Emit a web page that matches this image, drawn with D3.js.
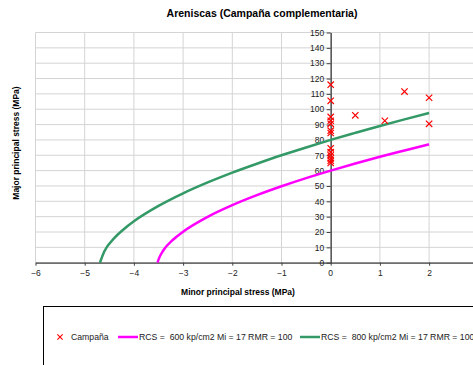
<!DOCTYPE html>
<html>
<head>
<meta charset="utf-8">
<script src="https://cdn.jsdelivr.net/npm/d3@7"></script>
<style>
  body { margin: 0; background: #fff; }
  svg { font-family: "Liberation Sans", Arial, sans-serif; }
</style>
</head>
<body>
<svg id="chart" width="473" height="365"></svg>
<script>
// Points de campagne (sigma3, sigma1)
const campX = [0, 0, 0, 0, 0, 0, 0, 0, 0, 0, 0, 0, 0, 0.5, 1.1, 1.5, 2, 2];
const campY = [116, 105.5, 95, 92.5, 90.5, 86, 84.5, 74.5, 72, 70, 68, 66.5, 65, 96, 92.5, 111.5, 107.5, 90.5];

// Courbe RCS = 600 kp/cm2
const rcs600X = [-3.52, -3.5, -3.4, -3.2, -3, -2.5, -2, -1.5, -1, -0.5, 0, 0.5, 1, 1.5, 2];
const rcs600Y = [0, 2, 8.1, 15.1, 20.2, 29.9, 37.5, 44, 49.8, 55.1, 60, 64.6, 69, 73.1, 77.1];

// Courbe RCS = 800 kp/cm2
const rcs800X = [-4.69, -4.6, -4.4, -4.2, -4, -3.5, -3, -2.5, -2, -1.5, -1, -0.5, 0, 0.5, 1, 1.5, 2];
const rcs800Y = [0, 7.4, 16, 22, 27, 37, 45.2, 52.3, 58.7, 64.5, 70, 75.1, 80, 84.6, 89.1, 93.4, 97.5];

const xTicks = [-6, -5, -4, -3, -2, -1, 0, 1, 2];
const xGrid = [-6, -5, -4, -3, -2, -1, 0, 1, 2, 3];
const yTicks = d3.range(0, 151, 10);

const legendLabels = ["Campaña", "RCS =  600 kp/cm2 Mi = 17 RMR = 100", "RCS =  800 kp/cm2 Mi = 17 RMR = 100"];

const svg = d3.select("#chart");

const x = d3.scaleLinear().domain([-6, 3]).range([35.5, 478.3]);
const y = d3.scaleLinear().domain([0, 150]).range([262.7, 32.5]);

// titre
svg.append("text")
  .attr("x", 262).attr("y", 17)
  .attr("text-anchor", "middle")
  .style("font-size", "10.5px").style("font-weight", "bold")
  .text("Areniscas (Campaña complementaria)");

// grille
svg.append("g")
  .selectAll("line")
  .data(xGrid)
  .join("line")
  .attr("x1", d => x(d)).attr("x2", d => x(d))
  .attr("y1", y(150)).attr("y2", y(0))
  .attr("stroke", "#d4d4d4").attr("stroke-width", 1);

svg.append("g")
  .selectAll("line")
  .data(yTicks)
  .join("line")
  .attr("x1", x(-6)).attr("x2", x(3))
  .attr("y1", d => y(d)).attr("y2", d => y(d))
  .attr("stroke", "#d4d4d4").attr("stroke-width", 1);

// axes
const xAxis = svg.append("g")
  .attr("transform", `translate(0,${y(0)})`)
  .call(d3.axisBottom(x).tickValues(xTicks).tickSize(3).tickSizeOuter(0).tickFormat(d3.format("d")));
xAxis.select(".domain").attr("stroke", "#404040").attr("stroke-width", 1.3);
xAxis.selectAll(".tick line").attr("stroke", "#404040");
xAxis.selectAll(".tick text")
  .attr("y", 7)
  .style("font-family", "Liberation Sans, Arial, sans-serif")
  .style("font-size", "8.5px").attr("fill", "#222")
  .filter(d => d === 0).remove();

const yAxis = svg.append("g")
  .attr("transform", `translate(${x(0)},0)`)
  .call(d3.axisLeft(y).tickValues(yTicks).tickSize(4).tickSizeOuter(0));
yAxis.select(".domain").attr("stroke", "#404040").attr("stroke-width", 1.3);
yAxis.selectAll(".tick line").attr("stroke", "#404040");
yAxis.selectAll(".tick text")
  .attr("x", -6.5)
  .style("font-family", "Liberation Sans, Arial, sans-serif")
  .style("font-size", "8.5px").attr("fill", "#222");

// "0" de l'axe x
svg.append("text")
  .attr("x", x(0)).attr("y", y(0) + 13.5)
  .attr("text-anchor", "middle")
  .style("font-size", "8.5px").attr("fill", "#222")
  .text("0");

// titres des axes
svg.append("text")
  .attr("x", 238).attr("y", 295)
  .attr("text-anchor", "middle")
  .style("font-size", "8.5px").style("font-weight", "bold")
  .text("Minor principal stress (MPa)");

svg.append("text")
  .attr("transform", "translate(19,143) rotate(-90)")
  .attr("text-anchor", "middle")
  .style("font-size", "8.5px").style("font-weight", "bold")
  .text("Major principal stress (MPa)");

// courbes
const line = d3.line().x(d => x(d[0])).y(d => y(d[1])).curve(d3.curveMonotoneX);

svg.append("path")
  .datum(d3.zip(rcs600X, rcs600Y))
  .attr("d", line)
  .attr("fill", "none").attr("stroke", "#ff00ff").attr("stroke-width", 2.5);

svg.append("path")
  .datum(d3.zip(rcs800X, rcs800Y))
  .attr("d", line)
  .attr("fill", "none").attr("stroke", "#339966").attr("stroke-width", 2.5);

// points (croix)
const cross = d3.symbol().type(d3.symbolX).size(28);
svg.append("g")
  .selectAll("path")
  .data(d3.zip(campX, campY))
  .join("path")
  .attr("transform", d => `translate(${x(d[0])},${y(d[1])})`)
  .attr("d", cross)
  .attr("fill", "none").attr("stroke", "#ff0000").attr("stroke-width", 1.2);

// légende
svg.append("rect")
  .attr("x", 43.5).attr("y", 306.5)
  .attr("width", 460).attr("height", 80)
  .attr("fill", "none").attr("stroke", "#000").attr("stroke-width", 1);

const ly = 337;
svg.append("path")
  .attr("transform", `translate(60,${ly})`)
  .attr("d", d3.symbol().type(d3.symbolX).size(20))
  .attr("fill", "none").attr("stroke", "#ff0000").attr("stroke-width", 1.1);
svg.append("text").attr("x", 71).attr("y", ly + 3)
  .style("font-size", "8.7px").attr("fill", "#222").text(legendLabels[0]);

svg.append("line").attr("x1", 118).attr("x2", 138).attr("y1", ly).attr("y2", ly)
  .attr("stroke", "#ff00ff").attr("stroke-width", 2.5);
svg.append("text").attr("x", 139).attr("y", ly + 3)
  .style("font-size", "8.7px").attr("fill", "#222").attr("xml:space", "preserve").text(legendLabels[1]);

svg.append("line").attr("x1", 300).attr("x2", 320).attr("y1", ly).attr("y2", ly)
  .attr("stroke", "#339966").attr("stroke-width", 2.5);
svg.append("text").attr("x", 321).attr("y", ly + 3)
  .style("font-size", "8.7px").attr("fill", "#222").attr("xml:space", "preserve").text(legendLabels[2]);
</script>
</body>
</html>
